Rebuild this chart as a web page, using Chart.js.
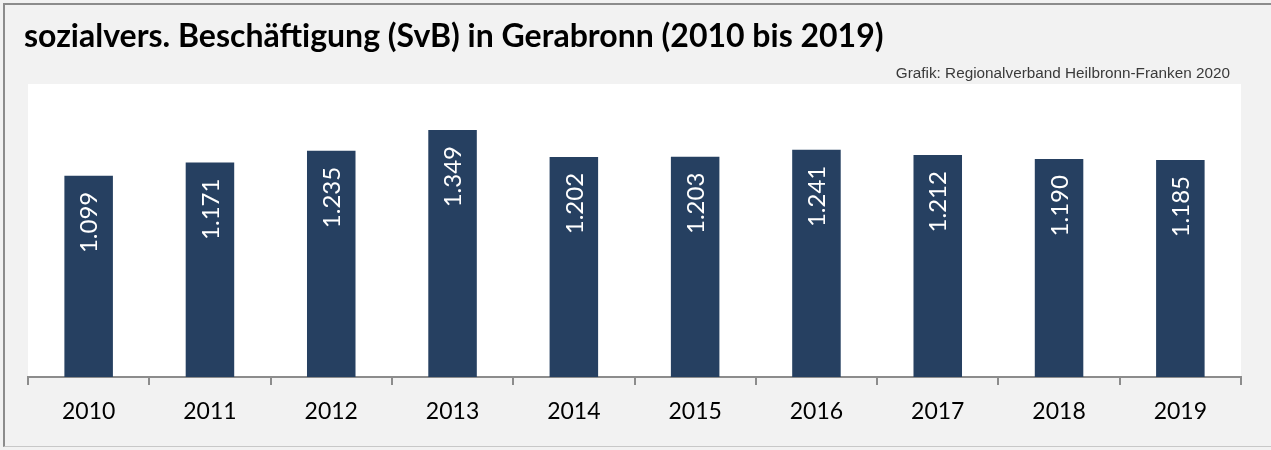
<!DOCTYPE html>
<html>
<head>
<meta charset="utf-8">
<script src="https://cdn.jsdelivr.net/npm/chart.js@4"></script>
<style>
  html, body { margin: 0; padding: 0; background: #f2f2f2; width: 1271px; height: 450px; overflow: hidden; }
  #frame { position: absolute; left: 3px; top: 3px; width: 1268px; height: 444px; border-top: 2px solid #8c8c8c; border-left: 2px solid #8c8c8c; border-bottom: 1px solid #c8c8c8; box-sizing: border-box; }
  #title { position: absolute; left: 24px; top: 16px; font: bold 32px Lato, sans-serif; line-height: 1.2; color: #000; white-space: nowrap; }
  #source { position: absolute; right: 41px; top: 64px; font: 15.3px "Liberation Sans", Arial, sans-serif; line-height: 1.149; color: #3a3a3a; white-space: nowrap; }
  #wrap { position: absolute; left: 0; top: 0; width: 1271px; height: 450px; }
</style>
</head>
<body>
<div id="frame"></div>
<div id="wrap"><canvas id="c" width="1271" height="450"></canvas></div>
<div id="title">sozialvers. Beschäftigung (SvB) in Gerabronn (2010 bis 2019)</div>
<div id="source">Grafik: Regionalverband Heilbronn-Franken 2020</div>
<script>
const categories = ['2010','2011','2012','2013','2014','2015','2016','2017','2018','2019'];
const employees = [1099, 1171, 1235, 1349, 1202, 1203, 1241, 1212, 1190, 1185];
const valueLabels = ['1.099','1.171','1.235','1.349','1.202','1.203','1.241','1.212','1.190','1.185'];

const plotBg = {
  id: 'plotBg',
  beforeDraw(chart) {
    const a = chart.chartArea, ctx = chart.ctx;
    ctx.save();
    ctx.fillStyle = '#ffffff';
    ctx.fillRect(a.left, a.top, a.right - a.left, a.bottom - a.top);
    ctx.restore();
  }
};

const barLabels = {
  id: 'barLabels',
  afterDatasetsDraw(chart) {
    const ctx = chart.ctx;
    const meta = chart.getDatasetMeta(0);
    ctx.save();
    ctx.fillStyle = '#ffffff';
    ctx.font = '24px Lato, sans-serif';
    ctx.textAlign = 'right';
    ctx.textBaseline = 'middle';
    meta.data.forEach((bar, i) => {
      ctx.save();
      ctx.translate(bar.x + 1, bar.y + 16);
      ctx.rotate(-Math.PI / 2);
      ctx.fillText(valueLabels[i], 0, 0);
      ctx.restore();
    });
    ctx.restore();
  }
};

new Chart(document.getElementById('c'), {
  type: 'bar',
  data: {
    labels: categories,
    datasets: [{
      data: employees,
      backgroundColor: '#264061',
      borderWidth: 0,
      barPercentage: 0.4,
      categoryPercentage: 1.0
    }]
  },
  options: {
    responsive: false,
    animation: false,
    devicePixelRatio: 1,
    layout: { padding: { left: 28, right: 30, top: 84, bottom: 0 } },
    plugins: { legend: { display: false }, tooltip: { enabled: false }, title: { display: false } },
    scales: {
      x: {
        afterFit(scale) { scale.height = 73; },
        grid: { display: true, drawOnChartArea: false, drawTicks: true, tickLength: 8, color: '#8c8c8c', lineWidth: 2, offset: true },
        border: { display: true, color: '#8c8c8c', width: 2 },
        ticks: { color: '#000000', font: { family: 'Lato', size: 23 }, padding: 13, maxRotation: 0 }
      },
      y: {
        display: false,
        min: 0,
        max: 1600
      }
    }
  },
  plugins: [plotBg, barLabels]
});
</script>
</body>
</html>
